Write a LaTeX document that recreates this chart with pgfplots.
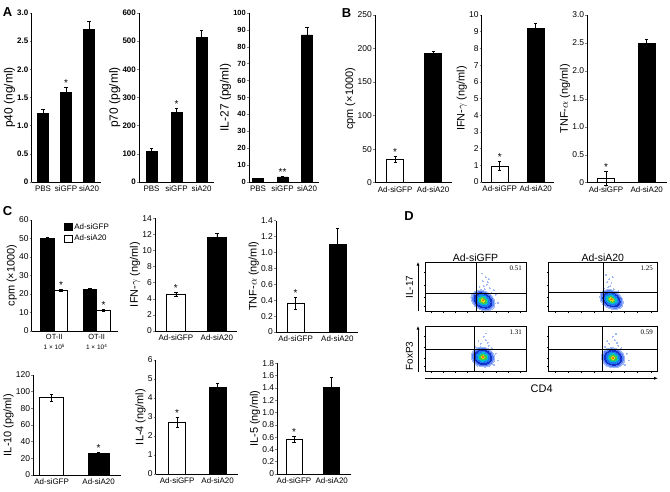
\documentclass[border=0pt]{standalone}
\usepackage{pgfplots}
\pgfplotsset{compat=1.18}
\usepackage{fontspec}
\setmainfont{Liberation Sans}
\newfontfamily\serfont{Liberation Serif}
\usetikzlibrary{arrows.meta}
\pgfkeys{/pgf/number format/assume math mode=true}

\definecolor{fA}{RGB}{20,50,200}
\definecolor{fB}{RGB}{30,120,240}
\definecolor{fC}{RGB}{0,190,210}
\definecolor{fD}{RGB}{70,200,70}
\definecolor{fE}{RGB}{225,215,20}
\definecolor{fF}{RGB}{240,120,20}
\definecolor{fS}{RGB}{160,185,245}
\definecolor{fH}{RGB}{90,130,250}

\tikzset{starnode/.style={font=\fontsize{10}{10}\selectfont, anchor=south, inner sep=0.6bp}}
\pgfplotsset{
  barax/.style={
    scale only axis, anchor=south west, clip=false,
    axis lines=left, axis line style={-, line width=0.8bp},
    ymin=0, xtick={1,2}, xtick style={draw=none},
    tick align=outside, major tick length=2bp,
    ytick style={line width=0.5bp},
    yticklabel style={font=\fontsize{8.5}{9}\selectfont, inner sep=1bp},
    xticklabel style={font=\fontsize{8}{9}\selectfont, inner sep=1.5bp},
    ylabel style={font=\fontsize{11}{12}\selectfont, inner sep=1bp},
    xticklabels={Ad-siGFP,Ad-siA20},
  },
  errs/.style={error bars/y dir=both, error bars/y explicit,
    error bars/error bar style={line width=0.6bp, black},
    error bars/error mark options={rotate=90, mark size=1.6bp, line width=0.6bp, black}},
  blackbar/.style={ybar, fill=black, draw=black, line width=0.6bp, bar width=#1, errs},
  whitebar/.style={ybar, fill=white, draw=black, line width=0.9bp, bar width=#1, errs},
  flowax/.style={scale only axis, anchor=south west, xmin=0, xmax=100, ymin=0, ymax=100,
    xtick={6,18,30,42,58,70,82,94}, ytick={12,30,55,80}, xticklabels={}, yticklabels={},
    tick align=outside, major tick length=1.5bp, tick style={line width=0.4bp, black},
    xtick pos=left, ytick pos=left, axis line style={line width=0.5bp},
    clip mode=individual},
  dots/.style={fS, only marks, mark=*, mark size=0.45bp, mark options={fS, line width=0pt}},
}
\newcommand\blob[5]{%
 \addplot[fS, only marks, mark=*, mark size=9.5bp, mark options={fS, line width=0pt, rotate=#3, xscale=#4, scale=#5}] coordinates {(#1,#2)};
 \addplot[fH, only marks, mark=*, mark size=8.3bp, mark options={fH, line width=0pt, rotate=#3, xscale=#4, scale=#5}] coordinates {(#1,#2)};
 \addplot[fA, only marks, mark=*, mark size=7bp, mark options={fA, line width=0pt, rotate=#3, xscale=#4, scale=#5}] coordinates {(#1,#2)};
 \addplot[fB, only marks, mark=*, mark size=5.5bp, mark options={fB, line width=0pt, rotate=#3, xscale=#4, scale=#5}] coordinates {(#1,#2)};
 \addplot[fC, only marks, mark=*, mark size=4.1bp, mark options={fC, line width=0pt, rotate=#3, xscale=#4, scale=#5}] coordinates {(#1,#2)};
 \addplot[fD, only marks, mark=*, mark size=2.8bp, mark options={fD, line width=0pt, rotate=#3, xscale=#4, scale=#5}] coordinates {(#1,#2)};
 \addplot[fE, only marks, mark=*, mark size=1.5bp, mark options={fE, line width=0pt, rotate=#3, xscale=#4, scale=#5}] coordinates {(#1,#2)};
 \addplot[fF, only marks, mark=*, mark size=0.6bp, mark options={fF, line width=0pt, rotate=#3, xscale=#4, scale=#5}] coordinates {(#1,#2)};
}

\begin{document}
\begin{tikzpicture}
\useasboundingbox (0,0) rectangle (670bp,-492bp);

% ---------------- Panel A
\begin{axis}[barax, at={(31.5bp,-182bp)}, width=69bp, height=169bp,
  xmin=0.5, xmax=3.5, ymax=3, xtick={1,2,3}, xticklabels={PBS,siGFP,siA20},
  ytick={0,0.5,1,1.5,2,2.5,3}, yticklabels={0,0.5,1.0,1.5,2.0,2.5,3.0},
  yticklabel style={font=\bfseries\fontsize{8}{9}\selectfont},
  ylabel={p40 (ng/ml)}, ylabel style={font=\fontsize{12}{13}\selectfont}]
\addplot[blackbar=11bp] table[x=x,y=y,y error=e]{
x y e
1 1.22 0.07
2 1.59 0.09
3 2.71 0.14
};
\node[starnode] at (axis cs:2,1.68) {*};
\end{axis}

\begin{axis}[barax, at={(139bp,-182bp)}, width=75bp, height=169bp,
  xmin=0.5, xmax=3.5, ymax=600, xtick={1,2,3}, xticklabels={PBS,siGFP,siA20},
  ytick={0,100,...,600},
  yticklabel style={font=\bfseries\fontsize{8}{9}\selectfont},
  ylabel={p70 (pg/ml)}, ylabel style={font=\fontsize{12}{13}\selectfont}]
\addplot[blackbar=11bp] table[x=x,y=y,y error=e]{
x y e
1 110 8
2 248 12
3 512 25
};
\node[starnode] at (axis cs:2,260) {*};
\end{axis}

\begin{axis}[barax, at={(249bp,-182bp)}, width=70.3bp, height=169bp,
  xmin=0.63, xmax=3.5, ymax=100, xtick={1,2,3}, xticklabels={PBS,siGFP,siA20},
  ytick={0,10,...,100},
  yticklabel style={font=\bfseries\fontsize{7.5}{8}\selectfont},
  ylabel={IL-27 (pg/ml)}, ylabel style={font=\fontsize{12}{13}\selectfont}]
\addplot[blackbar=11bp] table[x=x,y=y,y error=e]{
x y e
1 2 0.3
2 3 0.5
3 87 4.5
};
\node[starnode] at (axis cs:2,3.5) {**};
\end{axis}

% ---------------- Panel B
\begin{axis}[barax, at={(375bp,-182.7bp)}, width=77.1bp, height=167.7bp,
  xmin=0.47, xmax=2.5, ymax=250, ytick={0,50,...,250},
  ylabel={cpm (×1000)}]
\addplot[whitebar=17bp] table[x=x,y=y,y error=e]{
x y e
1 35 5
};
\addplot[blackbar=17bp] table[x=x,y=y,y error=e]{
x y e
2 193 3
};
\node[starnode] at (axis cs:1,40) {*};
\end{axis}

\begin{axis}[barax, at={(481.7bp,-182bp)}, width=72bp, height=167bp,
  xmin=0.5, xmax=2.5, ymax=10, ytick={0,1,...,10},
  ylabel={IFN-$\gamma$ (ng/ml)}]
\addplot[whitebar=16.5bp] table[x=x,y=y,y error=e]{
x y e
1 0.96 0.25
};
\addplot[blackbar=16.5bp] table[x=x,y=y,y error=e]{
x y e
2 9.2 0.3
};
\node[starnode] at (axis cs:1,1.21) {*};
\end{axis}

\begin{axis}[barax, at={(587.3bp,-182.7bp)}, width=79.8bp, height=167.7bp,
  xmin=0.54, xmax=2.5, ymax=3, ytick={0,0.5,1,1.5,2,2.5,3},
  yticklabels={0,0.5,1.0,1.5,2.0,2.5,3.0},
  ylabel={TNF-$\alpha$ (ng/ml)}]
\addplot[whitebar=16.6bp] table[x=x,y=y,y error=e]{
x y e
1 0.08 0.12
};
\addplot[blackbar=16.6bp] table[x=x,y=y,y error=e]{
x y e
2 2.5 0.07
};
\node[starnode] at (axis cs:1,0.2) {*};
\end{axis}

% ---------------- Panel C, top row
\begin{axis}[barax, at={(31.7bp,-331bp)}, width=86.2bp, height=111bp,
  xmin=0.467, xmax=2.5, ymax=60, ytick={0,10,...,60},
  ylabel={cpm (×1000)},
  xticklabel style={align=center, font=\fontsize{7.5}{8}\selectfont},
  xticklabels={{OT-II\\[2bp]{\fontsize{6.5}{7}\selectfont 1 × 10\textsuperscript{5}}},{OT-II\\[2bp]{\fontsize{6.5}{7}\selectfont 1 × 10\textsuperscript{4}}}},
  legend style={at={(rel axis cs:0.375,0.99)}, anchor=north west, draw=none, fill=none,
    font=\fontsize{8}{9}\selectfont, inner sep=0pt, row sep=0.5bp},
  legend cell align=left]
\addplot[blackbar=13.5bp, legend image code/.code={\draw[fill=black,draw=black,line width=0.6bp] (0bp,-3.6bp) rectangle (7.5bp,3.6bp);}] table[x=x,y=y,y error=e]{
x y e
0.84 50 0.8
1.84 22.3 0.6
};
\addlegendentry{Ad-siGFP}
\addplot[whitebar=13.5bp, legend image code/.code={\draw[fill=white,draw=black,line width=0.6bp] (0bp,-3.6bp) rectangle (7.5bp,3.6bp);}] table[x=x,y=y,y error=e]{
x y e
1.16 22 0.6
2.16 11.2 0.6
};
\addlegendentry{Ad-siA20}
\node[starnode] at (axis cs:1.16,22.6) {*};
\node[starnode] at (axis cs:2.16,11.8) {*};
\end{axis}

\begin{axis}[barax, at={(155bp,-331bp)}, width=82.4bp, height=112.7bp,
  xmin=0.49, xmax=2.5, ymax=14, ytick={0,2,...,14},
  ylabel={IFN-$\gamma$ (ng/ml)}]
\addplot[whitebar=18.5bp] table[x=x,y=y,y error=e]{
x y e
1 4.6 0.25
};
\addplot[blackbar=18.5bp] table[x=x,y=y,y error=e]{
x y e
2 11.7 0.4
};
\node[starnode] at (axis cs:1,4.85) {*};
\end{axis}

\begin{axis}[barax, at={(276bp,-332bp)}, width=82.3bp, height=111.3bp,
  xmin=0.53, xmax=2.5, ymax=1.4, ytick={0,0.2,0.4,0.6,0.8,1.0,1.2,1.4},
  yticklabels={0,0.2,0.4,0.6,0.8,1.0,1.2,1.4},
  ylabel={TNF-$\alpha$ (ng/ml)}]
\addplot[whitebar=17bp] table[x=x,y=y,y error=e]{
x y e
1 0.36 0.08
};
\addplot[blackbar=17bp] table[x=x,y=y,y error=e]{
x y e
2 1.1 0.21
};
\node[starnode] at (axis cs:1,0.44) {*};
\end{axis}

% ---------------- Panel C, bottom row
\begin{axis}[barax, at={(33.3bp,-475bp)}, width=87.4bp, height=100bp,
  xmin=0.61, xmax=2.47, ymax=120, ytick={0,20,...,120},
  ylabel={IL-10 (pg/ml)}]
\addplot[whitebar=24bp] table[x=x,y=y,y error=e]{
x y e
1 93 4
};
\addplot[blackbar=21bp] table[x=x,y=y,y error=e]{
x y e
2 26.5 1
};
\node[starnode] at (axis cs:2,27.5) {*};
\end{axis}

\begin{axis}[barax, at={(155.7bp,-474bp)}, width=82.2bp, height=114bp,
  xmin=0.47, xmax=2.5, ymax=6, ytick={0,1,...,6},
  ylabel={IL-4 (ng/ml)}]
\addplot[whitebar=17bp] table[x=x,y=y,y error=e]{
x y e
1 2.72 0.27
};
\addplot[blackbar=17bp] table[x=x,y=y,y error=e]{
x y e
2 4.56 0.2
};
\node[starnode] at (axis cs:1,2.99) {*};
\end{axis}

\begin{axis}[barax, at={(277.3bp,-474bp)}, width=73.3bp, height=110.7bp,
  xmin=0.557, xmax=2.5, ymax=1.8, ytick={0,0.2,0.4,0.6,0.8,1.0,1.2,1.4,1.6,1.8},
  yticklabels={0,0.2,0.4,0.6,0.8,1.0,1.2,1.4,1.6,1.8},
  ylabel={IL-5 (ng/ml)}]
\addplot[whitebar=16bp] table[x=x,y=y,y error=e]{
x y e
1 0.57 0.05
};
\addplot[blackbar=16bp] table[x=x,y=y,y error=e]{
x y e
2 1.41 0.16
};
\node[starnode] at (axis cs:1,0.62) {*};
\end{axis}

% ---------------- Panel D
\begin{axis}[flowax, at={(425bp,-311.7bp)}, width=101bp, height=49bp]
\addplot[dots] coordinates {
(55,45) (58,52) (62,60) (60,70) (64,48) (52,40) (66,38) (57,62) (61,55) (54,50) (68,44) (63,66) (70,35) (53,33) (72,18) (56,78) (65,30) (59,46)};
\blob{57.5}{23}{-30}{1.35}{1}
\addplot[black, line width=0.5bp] coordinates {(50.5,0) (50.5,100)};
\addplot[black, line width=0.5bp] coordinates {(0,37.5) (100,37.5)};
\node[font=\serfont\fontsize{7}{8}\selectfont, anchor=north east, inner sep=1bp] at (rel axis cs:0.97,0.95) {0.51};
\node[font=\fontsize{10.5}{11}\selectfont, anchor=south, inner sep=1.2bp] at (rel axis cs:0.5,1) {Ad-siGFP};
\end{axis}

\begin{axis}[flowax, at={(548.3bp,-311.7bp)}, width=109bp, height=49bp]
\addplot[dots] coordinates {
(52,42) (55,50) (58,58) (56,66) (60,46) (53,38) (62,40) (54,60) (57,52) (51,48) (64,42) (59,70) (66,30) (68,16) (53,75) (62,34)};
\blob{58}{25}{-30}{1.4}{0.95}
\addplot[black, line width=0.5bp] coordinates {(50.5,0) (50.5,100)};
\addplot[black, line width=0.5bp] coordinates {(0,39) (100,39)};
\node[font=\serfont\fontsize{7}{8}\selectfont, anchor=north east, inner sep=1bp] at (rel axis cs:0.97,0.95) {1.25};
\node[font=\fontsize{10.5}{11}\selectfont, anchor=south, inner sep=1.2bp] at (rel axis cs:0.5,1) {Ad-siA20};
\end{axis}

\begin{axis}[flowax, at={(425bp,-371.7bp)}, width=101bp, height=45bp]
\addplot[dots] coordinates {
(50,55) (55,62) (60,70) (58,78) (63,58) (52,50) (66,52) (53,68) (62,64) (70,40) (72,25) (68,15) (52,12) (60,85)};
\blob{57.4}{32.7}{-15}{1.2}{1.05}
\addplot[black, line width=0.5bp] coordinates {(48.5,0) (48.5,100)};
\addplot[black, line width=0.5bp] coordinates {(0,50) (100,50)};
\node[font=\serfont\fontsize{7}{8}\selectfont, anchor=north east, inner sep=1bp] at (rel axis cs:0.97,0.95) {1.31};
\end{axis}

\begin{axis}[flowax, at={(548.3bp,-371.7bp)}, width=109bp, height=45bp]
\addplot[dots] coordinates {
(52,55) (56,62) (61,70) (59,78) (64,58) (53,50) (67,52) (54,68) (63,64) (72,40) (74,25) (70,15) (54,12) (62,84)};
\blob{59.5}{31}{-15}{1.2}{1.05}
\addplot[black, line width=0.5bp] coordinates {(49.5,0) (49.5,100)};
\addplot[black, line width=0.5bp] coordinates {(0,50) (100,50)};
\node[font=\serfont\fontsize{7}{8}\selectfont, anchor=north east, inner sep=1bp] at (rel axis cs:0.97,0.95) {0.59};
\end{axis}

% D annotations
\draw[line width=0.7bp, -{Latex[length=3.5bp,width=3bp]}] (418bp,-311bp) -- (418bp,-262bp);
\node[rotate=90, font=\fontsize{10}{11}\selectfont] at (409.5bp,-287bp) {IL-17};
\draw[line width=0.7bp, -{Latex[length=3.5bp,width=3bp]}] (418bp,-372bp) -- (418bp,-326bp);
\node[rotate=90, font=\fontsize{10}{11}\selectfont] at (409.5bp,-356bp) {FoxP3};
\draw[line width=0.7bp, -{Latex[length=4bp,width=3bp]}] (425bp,-378.3bp) -- (658bp,-378.3bp);
\node[font=\fontsize{11}{12}\selectfont] at (541.7bp,-388.5bp) {CD4};

% panel letters
\node[font=\bfseries\fontsize{13}{13}\selectfont] at (7.5bp,-12.5bp) {A};
\node[font=\bfseries\fontsize{13}{13}\selectfont] at (346.5bp,-13.5bp) {B};
\node[font=\bfseries\fontsize{13}{13}\selectfont] at (7.5bp,-211bp) {C};
\node[font=\bfseries\fontsize{13}{13}\selectfont] at (409bp,-216.5bp) {D};
\end{tikzpicture}
\end{document}
